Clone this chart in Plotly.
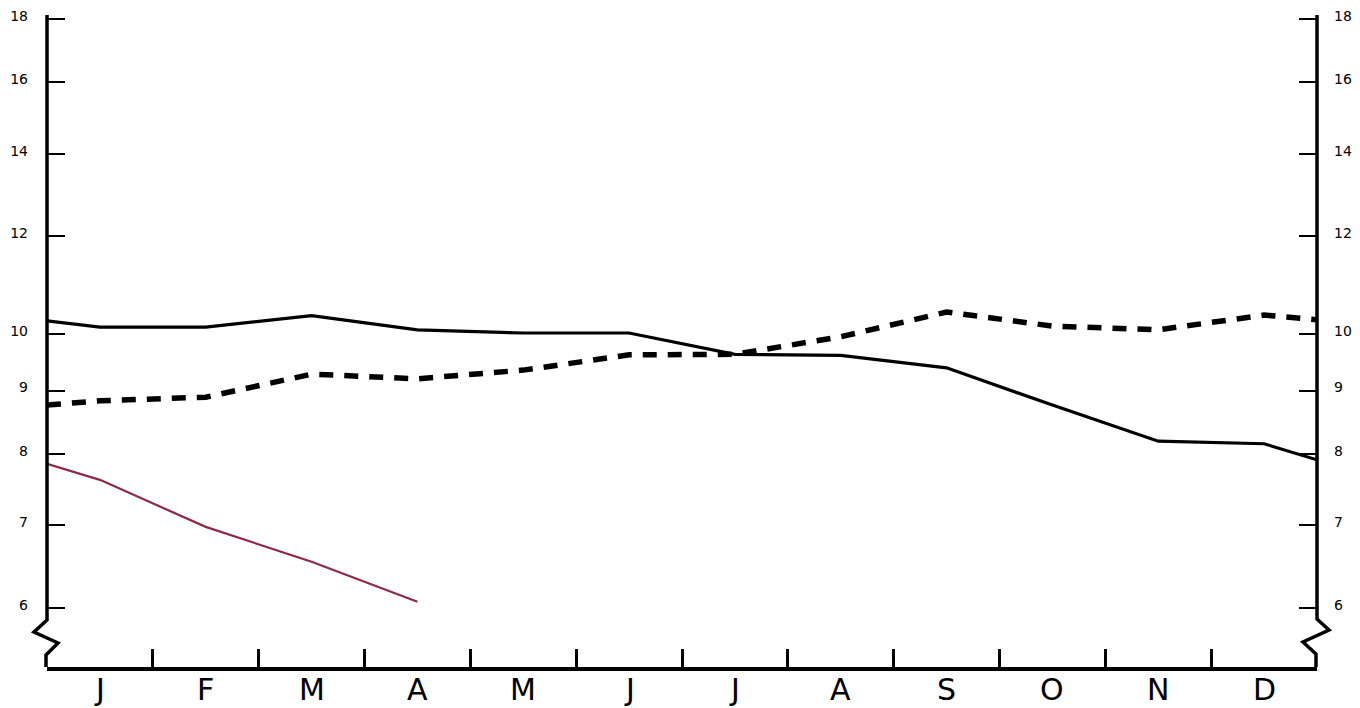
import plotly.graph_objects as go
import math

# ---- data ----
months = ["J", "F", "M", "A", "M", "J", "J", "A", "S", "O", "N", "D"]
month_x = [i + 0.5 for i in range(12)]
# positions: left axis edge, each month centre, right axis edge
x_pos = [0] + month_x + [12]

solid_vals = [10.25, 10.13, 10.13, 10.35, 10.08, 10.02, 10.02, 9.63, 9.61, 9.39, 8.76, 8.19, 8.15, 7.91]
dotted_vals = [8.76, 8.83, 8.89, 9.28, 9.20, 9.35, 9.62, 9.63, 9.95, 10.42, 10.15, 10.08, 10.36, 10.27]
red_vals = [7.85, 7.62, 6.98, 6.54, 6.07]
red_x = x_pos[:5]

y_ticks = [6, 7, 8, 9, 10, 12, 14, 16, 18]
y_min, y_max = 5.375, 18.13

# ---- layout geometry (pixels, in the 1360x708 window) ----
BODY = 8  # default html body margin
W, H = 1360, 708
L, R, T, B = 47, 43, 15, 41  # plot-area edges measured in window pixels
pw, ph = W - L - R, H - T - B


def px(x):
    return (x - L) / pw


def py(y):
    return (H - B - y) / ph


fig = go.Figure()
fig.add_trace(go.Scatter(x=x_pos, y=solid_vals, mode="lines",
                         line=dict(color="black", width=3.2), showlegend=False))
fig.add_trace(go.Scatter(x=x_pos, y=dotted_vals, mode="lines",
                         line=dict(color="black", width=5.5, dash="14px,11px"), showlegend=False))
fig.add_trace(go.Scatter(x=red_x, y=red_vals, mode="lines",
                         line=dict(color="#8e2a48", width=2.2), showlegend=False))
# invisible trace for right axis
fig.add_trace(go.Scatter(x=[0], y=[10], yaxis="y2", mode="markers",
                         marker=dict(opacity=0), showlegend=False, hoverinfo="skip"))

left_pts = [(47, 15), (47, 620), (34, 632), (58, 643), (46, 655), (46, 667)]
right_pts = [(1317, 15), (1317, 619), (1329, 630), (1303, 642), (1316, 654), (1316, 667)]


def path(pts):
    return "M " + " L ".join(f"{px(a):.5f},{py(b):.5f}" for a, b in pts)


for pts in (left_pts, right_pts):
    fig.add_shape(type="path", path=path(pts), xref="paper", yref="paper",
                  line=dict(color="black", width=3.5))

# month labels
for mx, m in zip(month_x, months):
    fig.add_annotation(x=mx, y=py(690), xref="x", yref="paper", text=m,
                       showarrow=False, xanchor="center", yanchor="middle",
                       font=dict(family="DejaVu Sans", size=30, color="black"))

tickfont = dict(family="DejaVu Sans", size=14, color="black")
yax = dict(type="log", range=[math.log10(y_min), math.log10(y_max)],
           tickvals=y_ticks, ticktext=[str(v) for v in y_ticks],
           ticks="inside", ticklen=18, tickwidth=2, tickcolor="black",
           showgrid=False, zeroline=False, showline=False, automargin=False,
           tickfont=tickfont, ticklabelstandoff=18, ticklabelshift=-3,
           ticklabeloverflow="allow")

fig.update_layout(
    width=W - BODY, height=H - BODY,
    margin=dict(l=L - BODY, r=R, t=T - BODY, b=B, pad=0),
    paper_bgcolor="white", plot_bgcolor="white",
    xaxis=dict(range=[0, 12], tickvals=month_x, showticklabels=False,
               ticks="", showgrid=False, zeroline=False, automargin=False,
               showline=True, linecolor="black", linewidth=3.5,
               minor=dict(tickvals=list(range(1, 12)), ticks="inside", ticklen=18,
                          tickwidth=2.5, tickcolor="black", showgrid=False)),
    yaxis=yax,
    yaxis2=dict(yax, overlaying="y", side="right", ticklabelstandoff=16),
)

fig.write_html("out.html")
